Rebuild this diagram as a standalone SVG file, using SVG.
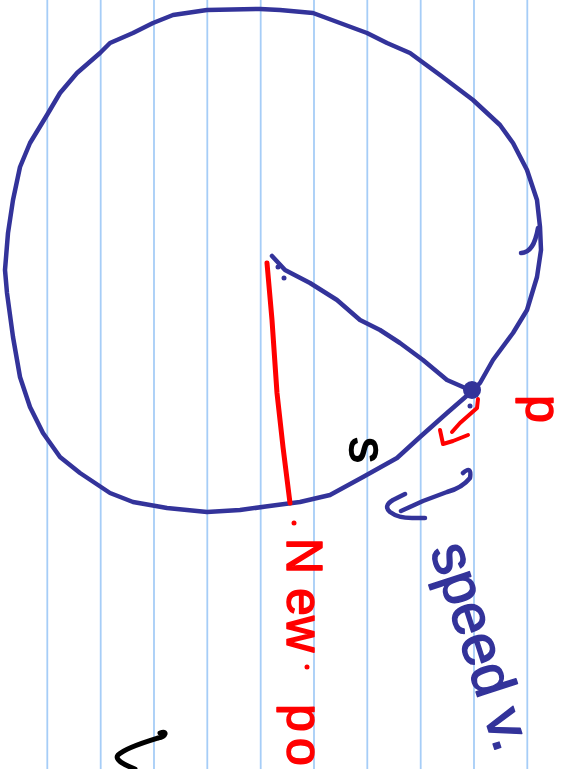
<svg xmlns="http://www.w3.org/2000/svg" width="574" height="769" viewBox="0 0 574 769">
<style>
.rule{stroke:#a6cdf7;stroke-width:1.8}
.blue{fill:none;stroke:#33339a;stroke-width:4.5;stroke-linecap:round;stroke-linejoin:round}
.red{fill:none;stroke:#ff0000;stroke-width:5;stroke-linecap:round;stroke-linejoin:round}
.blk{fill:none;stroke:#000;stroke-width:5;stroke-linecap:round;stroke-linejoin:round}
.hand{font-family:"Liberation Sans","DejaVu Sans",sans-serif;stroke-width:1.5;stroke-linejoin:round}
.tred{fill:#ff0000;stroke:#ff0000}
.tblue{fill:#33339a;stroke:#33339a}
.tblk{fill:#000;stroke:#000}
</style>
<rect width="574" height="769" fill="#fff"/>
<g id="paper-rules">
<line class="rule" x1="47.3" y1="0" x2="47.3" y2="769"/>
<line class="rule" x1="100.7" y1="0" x2="100.7" y2="769"/>
<line class="rule" x1="154" y1="0" x2="154" y2="769"/>
<line class="rule" x1="207.3" y1="0" x2="207.3" y2="769"/>
<line class="rule" x1="260.7" y1="0" x2="260.7" y2="769"/>
<line class="rule" x1="314" y1="0" x2="314" y2="769"/>
<line class="rule" x1="367.3" y1="0" x2="367.3" y2="769"/>
<line class="rule" x1="420.7" y1="0" x2="420.7" y2="769"/>
<line class="rule" x1="474" y1="0" x2="474" y2="769"/>
<line class="rule" x1="527.3" y1="0" x2="527.3" y2="769"/>
</g>
<g id="circle">
<path class="blue" d="M470,393 L480,383 L493,360 L513,333 L527,310 L537,277 L541,250 L540,227 L537,200 L527,170 L513,143 L500,125 L473,100 L440,75 L410,53 L387,43 L367,33 L340,23 L313,13 L280,10 L260,9 L207,10 L173,15 L153,23 L133,33 L110,43 L100,53 L77,73 L60,93 L47,115 L30,143 L20,167 L13,200 L8,233 L5,270 L7,293 L13,337 L20,377 L30,407 L43,433 L60,457 L80,473 L110,493 L133,502 L167,508 L207,512 L240,510 L277,505 L300,502 L330,495 L363,477 L397,458 L420,437 L447,413 L470,393"/>
<path class="blue" d="M521,253 C530,253 535,245 538,228"/>
</g>
<g id="connectors">
<path id="radius" class="blue" d="M272,256 L285,270 L310,283 L337,300 L360,320 L380,330 L400,343 L423,360 L447,380 L463,387 L472,391"/>
<path id="red-radius" class="red" d="M267,263 L272,320 L277,393 L283,447 L290,503"/>
<path id="velocity" class="blue" d="M463,473 Q472,465 470,478 Q462,488 447,492 L423,501 L401,511 M405,494 L393,500 Q383,506 390,512 Q398,518 412,518 L425,518"/>
<path id="angle-mark" class="red" style="stroke-width:4" d="M478,399 L477,408 L460,423 L452,432 M440,430 L443,444 L453,441 L468,435"/>
</g>
<g id="centre">
<circle cx="278" cy="267" r="2.5" fill="#33339a"/>
<circle cx="284" cy="278" r="2.5" fill="#33339a"/>
</g>
<g id="point-p">
<circle cx="472" cy="390" r="9" fill="#33339a"/>
<circle cx="470" cy="406" r="2.5" fill="#33339a"/>
<text class="hand tred" font-size="50" transform="translate(526,395) rotate(90)">p</text>
</g>
<g id="label-s">
<text class="hand tblk" font-size="52" transform="translate(350,437) rotate(90)">s</text>
</g>
<g id="label-speed">
<text class="hand tblue" font-size="58" transform="translate(430,550) rotate(72)">speed v.</text>
</g>
<g id="label-new">
<circle cx="294" cy="523" r="2.5" fill="#ff0000"/>
<circle cx="307" cy="667" r="2.5" fill="#ff0000"/>
<text class="hand tred" font-size="50" x="0 50 78 130 166 200" y="0" transform="translate(287,538) rotate(90)">New po</text>
</g>
<g id="fragment">
<path class="blk" d="M160,733 C168,730 166,737 158,738 C145,742 125,748 118,755 C114,760 125,765 135,769"/>
</g>
</svg>
